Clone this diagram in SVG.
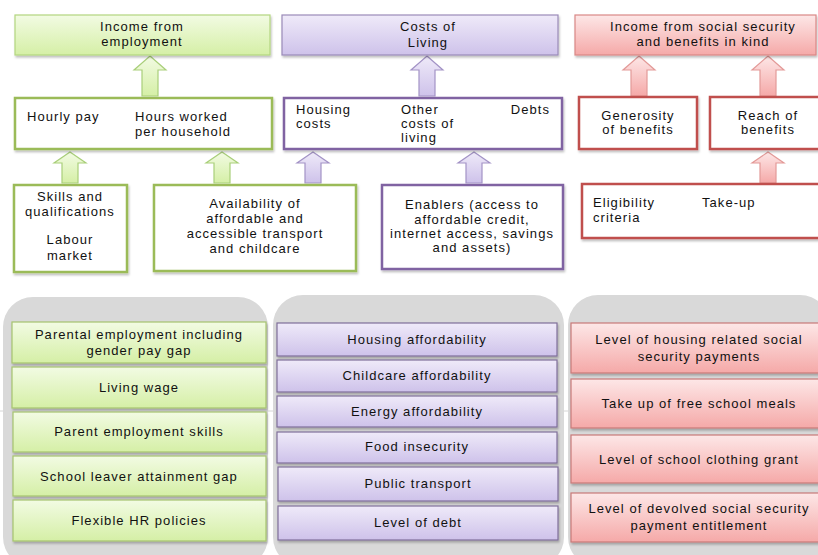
<svg xmlns="http://www.w3.org/2000/svg" width="818" height="555" viewBox="0 0 818 555">
<defs>
  <linearGradient id="gG" x1="0" y1="0" x2="0" y2="1"><stop offset="0" stop-color="#f2fbe3"/><stop offset="1" stop-color="#d5efa6"/></linearGradient>
  <linearGradient id="gP" x1="0" y1="0" x2="0" y2="1"><stop offset="0" stop-color="#efeaf9"/><stop offset="1" stop-color="#cec2ea"/></linearGradient>
  <linearGradient id="gR" x1="0" y1="0" x2="0" y2="1"><stop offset="0" stop-color="#fde7e7"/><stop offset="1" stop-color="#f5a9a8"/></linearGradient>
  <filter id="sh" x="-5%" y="-10%" width="110%" height="130%"><feDropShadow dx="1" dy="2" stdDeviation="1.2" flood-color="#000" flood-opacity="0.25"/></filter>
  <path id="arT" d="M0,0 L16,14 L8,14 L8,40 L-8,40 L-8,14 L-16,14 Z"/>
  <path id="arB" d="M0,0 L16,11 L8,11 L8,31 L-8,31 L-8,11 L-16,11 Z"/>
</defs>
<style>
  text{font-family:"Liberation Sans",Arial,sans-serif;font-size:13px;letter-spacing:1.05px;fill:#111}
  .c{text-anchor:middle}
  .gf{fill:url(#gG);stroke:#b3d67f;stroke-width:1.2;filter:url(#sh)}
  .pf{fill:url(#gP);stroke:#9a8ab8;stroke-width:1.2;filter:url(#sh)}
  .rf{fill:url(#gR);stroke:#d98886;stroke-width:1.2;filter:url(#sh)}
  .gw{fill:#fff;stroke:#9bbb59;stroke-width:2.5;filter:url(#sh)}
  .pw{fill:#fff;stroke:#8064a2;stroke-width:2.5;filter:url(#sh)}
  .rw{fill:#fff;stroke:#c0504d;stroke-width:2.5;filter:url(#sh)}
  .gl{fill:url(#gG);stroke:#a6c46e;stroke-width:1.2;filter:url(#sh)}
  .pl{fill:url(#gP);stroke:#7f6e99;stroke-width:1.2;filter:url(#sh)}
  .rl{fill:url(#gR);stroke:#c97a78;stroke-width:1.2;filter:url(#sh)}
  .panel{fill:#d9d9d9}
  .ga{fill:url(#gG);stroke:#a9cf7a;stroke-width:1.2}
  .pa{fill:url(#gP);stroke:#a393c6;stroke-width:1.2}
  .ra{fill:url(#gR);stroke:#e39a98;stroke-width:1.2}
</style>
<rect width="818" height="555" fill="#fff"/>
<line x1="0" y1="411" x2="818" y2="411" stroke="#d6d6d6" stroke-width="1"/>

<!-- panels -->
<g id="panels">
  <rect class="panel" x="3" y="297" width="265" height="270" rx="30"/>
  <rect class="panel" x="273" y="295" width="291" height="272" rx="30"/>
  <rect class="panel" x="568" y="295" width="262" height="272" rx="30"/>
</g>

<!-- connectors -->
<g id="connectors">
  <use href="#arT" x="150" y="56" class="ga"/>
  <use href="#arT" x="427" y="56" class="pa"/>
  <use href="#arT" x="639" y="56" class="ra"/>
  <use href="#arT" x="768" y="56" class="ra"/>
  <use href="#arB" x="70" y="152" class="ga"/>
  <use href="#arB" x="222" y="152" class="ga"/>
  <use href="#arB" x="313" y="152" class="pa"/>
  <use href="#arB" x="474" y="152" class="pa"/>
  <use href="#arB" x="768" y="152" class="ra"/>
</g>

<!-- top row -->
<g id="income-employment"><rect class="gf" x="15" y="15" width="255" height="40"/>
  <text class="c" x="142" y="31">Income from</text><text class="c" x="142" y="46">employment</text></g>
<g id="costs-living"><rect class="pf" x="282" y="15" width="276" height="40"/>
  <text class="c" x="428" y="31">Costs of</text><text class="c" x="428" y="47">Living</text></g>
<g id="income-social"><rect class="rf" x="575" y="15" width="241" height="40"/>
  <text class="c" x="703" y="31">Income from social security</text><text class="c" x="703" y="46">and benefits in kind</text></g>

<!-- middle row -->
<g id="pay-hours"><rect class="gw" x="15" y="98" width="257" height="51"/>
  <text x="27" y="121">Hourly pay</text><text x="135" y="121">Hours worked</text><text x="135" y="136">per household</text></g>
<g id="costs-items"><rect class="pw" x="284" y="98" width="278" height="51"/>
  <text x="296" y="114">Housing</text><text x="296" y="128">costs</text>
  <text x="401" y="114">Other</text><text x="401" y="128">costs of</text><text x="401" y="142">living</text>
  <text x="550" y="114" text-anchor="end">Debts</text></g>
<g id="generosity"><rect class="rw" x="579" y="97" width="118" height="52"/>
  <text class="c" x="638" y="120">Generosity</text><text class="c" x="638" y="134">of benefits</text></g>
<g id="reach"><rect class="rw" x="710" y="97" width="112" height="52"/>
  <text class="c" x="768" y="120">Reach of</text><text class="c" x="768" y="134">benefits</text></g>

<!-- lower row -->
<g id="skills"><rect class="gw" x="14" y="185" width="113" height="87"/>
  <text class="c" x="70" y="201">Skills and</text><text class="c" x="70" y="216">qualifications</text>
  <text class="c" x="70" y="244">Labour</text><text class="c" x="70" y="260">market</text></g>
<g id="availability"><rect class="gw" x="154" y="185" width="202" height="86"/>
  <text class="c" x="255" y="208">Availability of</text><text class="c" x="255" y="223">affordable and</text>
  <text class="c" x="255" y="238">accessible transport</text><text class="c" x="255" y="253">and childcare</text></g>
<g id="enablers"><rect class="pw" x="382" y="185" width="181" height="84"/>
  <text class="c" x="472" y="209">Enablers (access to</text><text class="c" x="472" y="224">affordable credit,</text>
  <text class="c" x="472" y="238">internet access, savings</text><text class="c" x="472" y="252">and assets)</text></g>
<g id="eligibility"><rect class="rw" x="582" y="184" width="240" height="54"/>
  <text x="593" y="207">Eligibility</text><text x="593" y="222">criteria</text><text x="702" y="207">Take-up</text></g>

<!-- green list -->
<g id="parental-employment"><rect class="gl" x="12" y="322" width="254" height="41"/>
  <text class="c" x="139" y="339">Parental employment including</text><text class="c" x="139" y="355">gender pay gap</text></g>
<g id="living-wage"><rect class="gl" x="12" y="367" width="254" height="41"/>
  <text class="c" x="139" y="392">Living wage</text></g>
<g id="parent-skills"><rect class="gl" x="13" y="412" width="253" height="40"/>
  <text class="c" x="139" y="436">Parent employment skills</text></g>
<g id="school-leaver"><rect class="gl" x="13" y="456" width="253" height="40"/>
  <text class="c" x="139" y="481">School leaver attainment gap</text></g>
<g id="flexible-hr"><rect class="gl" x="13" y="500" width="253" height="41"/>
  <text class="c" x="139" y="525">Flexible HR policies</text></g>

<!-- purple list -->
<g id="housing-aff"><rect class="pl" x="277" y="323" width="280" height="33"/>
  <text class="c" x="417" y="344">Housing affordability</text></g>
<g id="childcare-aff"><rect class="pl" x="277" y="360" width="280" height="32"/>
  <text class="c" x="417" y="380">Childcare affordability</text></g>
<g id="energy-aff"><rect class="pl" x="277" y="396" width="280" height="31"/>
  <text class="c" x="417" y="416">Energy affordability</text></g>
<g id="food"><rect class="pl" x="277" y="432" width="280" height="31"/>
  <text class="c" x="417" y="451">Food insecurity</text></g>
<g id="public-transport"><rect class="pl" x="278" y="467" width="280" height="34"/>
  <text class="c" x="418" y="488">Public transport</text></g>
<g id="debt"><rect class="pl" x="278" y="506" width="280" height="34"/>
  <text class="c" x="418" y="527">Level of debt</text></g>

<!-- red list -->
<g id="housing-ss"><rect class="rl" x="571" y="323" width="252" height="50"/>
  <text class="c" x="699" y="344">Level of housing related social</text><text class="c" x="699" y="361">security payments</text></g>
<g id="free-meals"><rect class="rl" x="571" y="379" width="252" height="49"/>
  <text class="c" x="699" y="408">Take up of free school meals</text></g>
<g id="clothing"><rect class="rl" x="571" y="435" width="252" height="48"/>
  <text class="c" x="699" y="464">Level of school clothing grant</text></g>
<g id="devolved"><rect class="rl" x="571" y="493" width="252" height="49"/>
  <text class="c" x="699" y="513">Level of devolved social security</text><text class="c" x="699" y="530">payment entitlement</text></g>
</svg>
